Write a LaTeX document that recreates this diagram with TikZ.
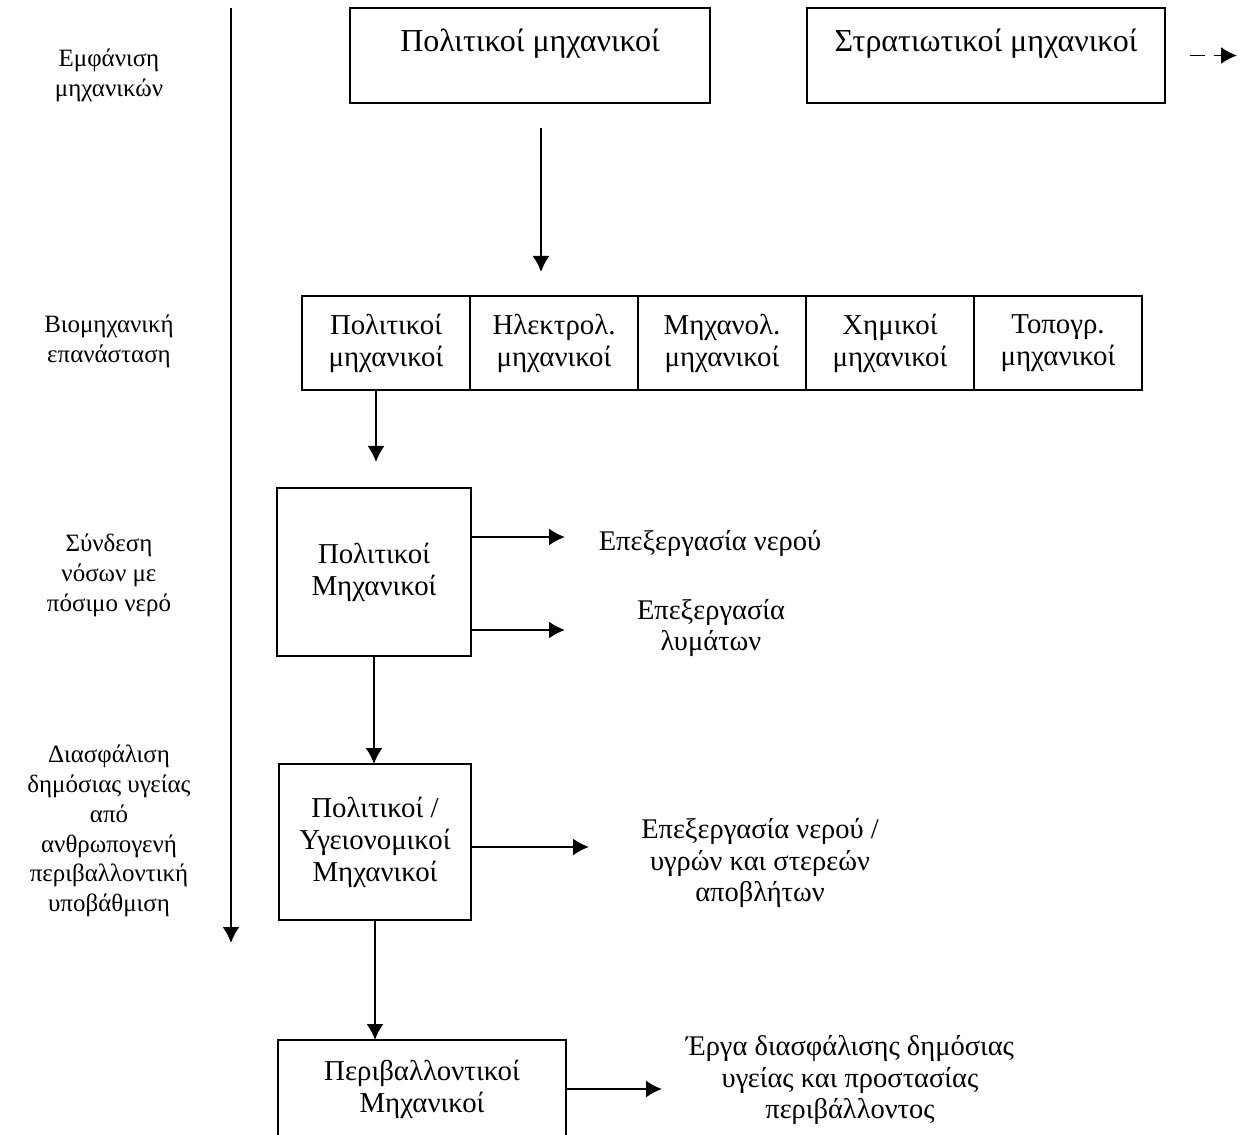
\documentclass[tikz,border=0pt]{standalone}
\usepackage{fontspec}
\setmainfont{Liberation Serif}
\usepackage{tikz}
\usetikzlibrary{arrows.meta}
\usetikzlibrary{positioning}

\tikzset{
  box/.style={rectangle, draw=black, line width=1.1pt, fill=white, inner sep=0pt, outer sep=0pt, align=center, font=\fontsize{16.4}{18.2}\selectfont},
  era/.style={align=center, font=\fontsize{14.2}{17}\selectfont},
  task/.style={align=center, font=\fontsize{16.2}{18.2}\selectfont},
  flow/.style={line width=1.1pt, -{Latex[length=0.32cm, width=0.34cm]}},
}

\begin{document}
\begin{tikzpicture}

\useasboundingbox (0,0) rectangle (25,-22.7);
\clip (0,0) rectangle (25,-22.7);
%\draw[step=1cm, gray, very thin, dotted] (0,0) grid (25,-22.7);

\coordinate (tltop) at (4.62,-0.16);
\coordinate (tlbot) at (4.62,-18.86);
\draw[flow] (tltop) -- (tlbot);

\node at (2.18,-1.5) [era] (appear) {Εμφάνιση\\μηχανικών};
\node at (2.18,-6.82) [era] (indust) {Βιομηχανική\\επανάσταση};
\node at (2.18,-11.5) [era] (disease) {Σύνδεση\\νόσων με\\πόσιμο νερό};
\node at (2.18,-16.62) [era] (health) {Διασφάλιση\\δημόσιας υγείας\\από\\ανθρωπογενή\\περιβαλλοντική\\υποβάθμιση};

\node at (10.6,-1.11) [box, minimum width=7.2cm, minimum height=1.9cm, font=\fontsize{18.2}{17}\selectfont] (civil) {Πολιτικοί μηχανικοί\\~};
\node at (19.72,-1.11) [box, minimum width=7.16cm, minimum height=1.9cm, font=\fontsize{18.2}{17}\selectfont] (milit) {Στρατιωτικοί μηχανικοί\\~};
\draw[flow, dash pattern=on 0.3cm off 0.17cm] ([xshift=0.5cm]milit.east) -- ++(0.94,0);

\draw[flow] ([shift={(0.22,-0.5)}]civil.south) -- ++(0,-2.88);

\node at (7.72,-6.86) [box, minimum width=3.36cm, minimum height=1.88cm] (civrow) {Πολιτικοί\\μηχανικοί};
\node at (11.08,-6.86) [box, minimum width=3.36cm, minimum height=1.88cm] (elec) {Ηλεκτρολ.\\μηχανικοί};
\node at (14.44,-6.86) [box, minimum width=3.36cm, minimum height=1.88cm] (mech) {Μηχανολ.\\μηχανικοί};
\node at (17.80,-6.86) [box, minimum width=3.36cm, minimum height=1.88cm] (chem) {Χημικοί\\μηχανικοί};
\node at (21.16,-6.86) [box, minimum width=3.36cm, minimum height=1.88cm] (topo) {Τοπογρ.\\μηχανικοί};

\draw[flow] ([xshift=-0.2cm]civrow.south) -- ++(0,-1.44);

\node at (7.48,-11.44) [box, minimum width=3.88cm, minimum height=3.36cm] (polit) {Πολιτικοί\\Μηχανικοί};
\node at (14.2,-10.86) [task] (water) {Επεξεργασία νερού};
\node at (14.22,-12.56) [task] (sewage) {Επεξεργασία\\λυμάτων};
\draw[flow] ([yshift=0.7cm]polit.east) -- ++(1.88,0);
\draw[flow] ([yshift=-1.16cm]polit.east) -- ++(1.88,0);

\node at (7.5,-16.84) [box, minimum width=3.84cm, minimum height=3.12cm] (sanit) {Πολιτικοί /\\Υγειονομικοί\\Μηχανικοί};
\draw[flow] (polit.south) -- (polit.south |- sanit.north);
\node at (15.2,-17.26) [task] (waste) {Επεξεργασία νερού /\\υγρών και στερεών\\αποβλήτων};
\draw[flow] ([yshift=-0.1cm]sanit.east) -- ++(2.36,0);

\node at (8.44,-21.78) [box, minimum width=5.76cm, minimum height=1.96cm] (envir) {Περιβαλλοντικοί\\Μηχανικοί};
\draw[flow] (sanit.south) -- (sanit.south |- envir.north);
\node at (17.0,-21.6) [task] (works) {Έργα διασφάλισης δημόσιας\\υγείας και προστασίας\\περιβάλλοντος};
\draw[flow] (envir.east) -- ++(1.92,0);

\end{tikzpicture}
\end{document}
